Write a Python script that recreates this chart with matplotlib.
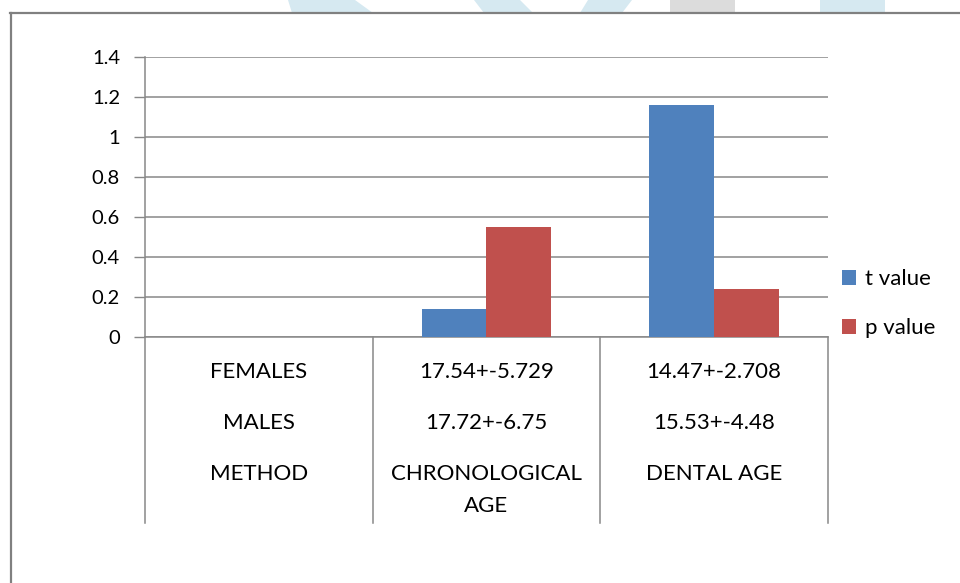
import matplotlib
matplotlib.use("Agg")
import matplotlib.pyplot as plt
from matplotlib.lines import Line2D
from matplotlib.patches import Polygon
import numpy as np

plt.rcParams['font.family'] = ['Lato', 'DejaVu Sans']

# Data
groups = ["", "CHRONOLOGICAL\nAGE", "DENTAL AGE"]
t_values = [np.nan, 0.14, 1.16]
p_values = [np.nan, 0.55, 0.24]
series_names = ["t value", "p value"]

# Multi-level category labels shown beneath the axis
row_females = ["FEMALES", "17.54+-5.729", "14.47+-2.708"]
row_males = ["MALES", "17.72+-6.75", "15.53+-4.48"]
row_method = ["METHOD", "CHRONOLOGICAL\nAGE", "DENTAL AGE"]

yticks = [0, 0.2, 0.4, 0.6, 0.8, 1, 1.2, 1.4]
ytick_labels = ["0", "0.2", "0.4", "0.6", "0.8", "1", "1.2", "1.4"]

BLUE = "#4F81BD"
RED = "#C0504D"
GRID = "#888888"

W, H = 960, 583
fig = plt.figure(figsize=(W / 100, H / 100), dpi=100)

def fx(px):
    return px / W

def fy(py):
    return 1 - py / H

# Faint background shapes along the top edge
wm_blue = "#d6e9f1"
wm_gray = "#dcdcdc"
shapes = [
    ([(288, 0), (355, 0), (373, 13), (292, 13)], wm_blue),
    ([(474, 0), (520, 0), (533, 13), (484, 13)], wm_blue),
    ([(588, 0), (632, 0), (622, 13), (580, 13)], wm_blue),
    ([(670, 0), (735, 0), (735, 13), (670, 13)], wm_gray),
    ([(820, 0), (885, 0), (885, 13), (820, 13)], wm_blue),
]
for pts, col in shapes:
    fig.add_artist(Polygon([(fx(x), fy(y)) for x, y in pts], closed=True,
                           transform=fig.transFigure, facecolor=col,
                           edgecolor="none", zorder=0))

# Outer frame (left and top edges)
fig.add_artist(Line2D([fx(10.5), fx(10.5)], [fy(13), fy(583)], color="#808080",
                      lw=1.6, transform=fig.transFigure))
fig.add_artist(Line2D([fx(10), fx(960)], [fy(13), fy(13)], color="#808080",
                      lw=1.6, transform=fig.transFigure))

ax_left, ax_right, ax_top, ax_bottom = 145, 828, 57, 337
ax = fig.add_axes([fx(ax_left), fy(ax_bottom), fx(ax_right - ax_left),
                   (ax_bottom - ax_top) / H])

x = np.arange(len(groups))
bw = 0.2855
ax.bar(x - bw / 2, t_values, bw, color=BLUE, label=series_names[0], zorder=3)
ax.bar(x + bw / 2, p_values, bw, color=RED, label=series_names[1], zorder=3)

ax.set_xlim(-0.5, len(groups) - 0.5)
ax.set_ylim(0, 1.4)
ax.set_yticks(yticks)
ax.set_yticklabels(ytick_labels, fontsize=14.5, color="black")
ax.yaxis.grid(True, color=GRID, lw=1.1, zorder=0)
ax.set_axisbelow(True)
ax.tick_params(axis="y", length=8, width=1, color=GRID, pad=10)
ax.set_xticks([])
for s in ["top", "right"]:
    ax.spines[s].set_visible(False)
ax.spines["left"].set_color(GRID)
ax.spines["bottom"].set_color(GRID)
ax.spines["left"].set_linewidth(1.1)
ax.spines["bottom"].set_linewidth(1.1)

# Category table below the axis
ax_h = ax_bottom - ax_top

def ay(py):
    return (ax_bottom - py) / ax_h

trans = ax.get_xaxis_transform()
for b in np.arange(len(groups) + 1) - 0.5:
    ax.add_line(Line2D([b, b], [0, ay(523)], color=GRID, lw=1.1,
                       transform=trans, clip_on=False))

label_fs = 16
line_step = 32
for row, ypx in [(row_females, 372), (row_males, 423), (row_method, 474)]:
    for i, txt in enumerate(row):
        for k, part in enumerate(txt.split("\n")):
            ax.text(i, ay(ypx + k * line_step), part, transform=trans,
                    ha="center", va="center", fontsize=label_fs, clip_on=False)

leg = ax.legend(loc="center left", bbox_to_anchor=(fx(822), fy(303.5)),
                bbox_transform=fig.transFigure, frameon=False,
                fontsize=label_fs, handlelength=0.65, handleheight=0.65,
                handletextpad=0.4, labelspacing=1.31)

fig.savefig("out.png", dpi=100, facecolor="white")
